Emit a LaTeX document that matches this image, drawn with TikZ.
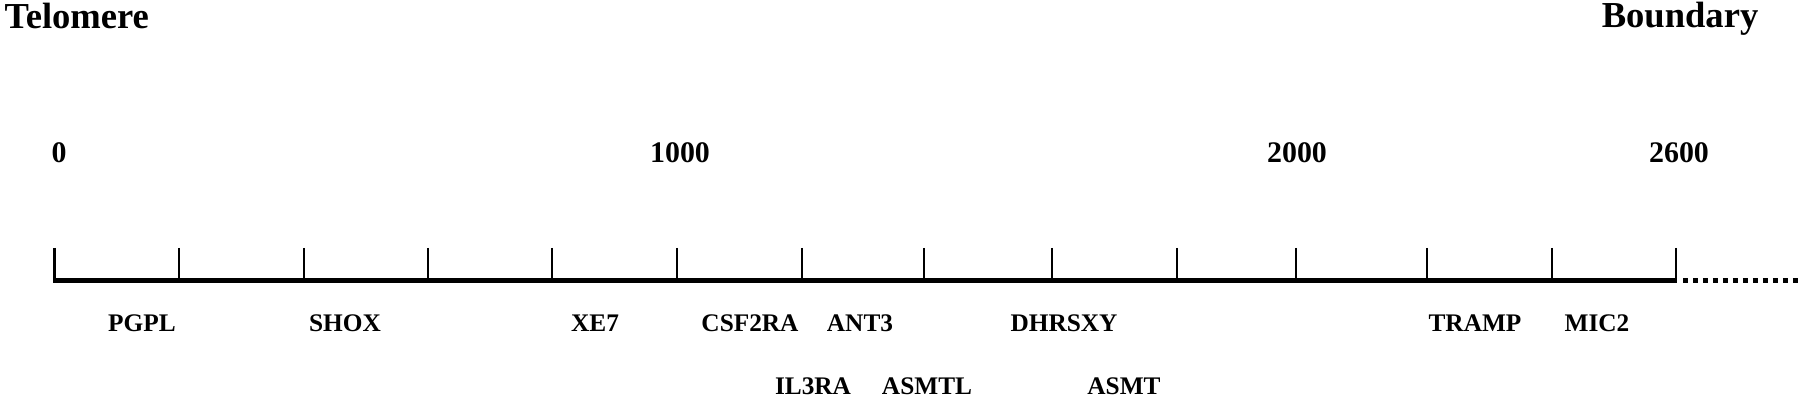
\documentclass[tikz,border=0pt]{standalone}
\usepackage{fontspec}
\setmainfont{Liberation Serif}
\usetikzlibrary{positioning}

\begin{document}
\begin{tikzpicture}[
        x=0.01cm, y=-0.01cm,
        endlabel/.style={inner sep=0pt, font=\fontsize{10.4}{12}\selectfont\bfseries},
        scalelabel/.style={inner sep=0pt, anchor=base, font=\fontsize{8.5}{10}\selectfont\bfseries},
        genelabel/.style={inner sep=0pt, anchor=base, font=\fontsize{7.2}{9}\selectfont\bfseries},
        axisline/.style={line width=1.42pt},
        tickline/.style={line width=0.77pt}
    ]
    \useasboundingbox (0,0) rectangle (1800,398);

    % --- Ends of the map ---
    \node[endlabel, anchor=base west] (telomere) at (4,29) {Telomere};
    \node[endlabel, anchor=base east] (boundary) at (1759,28) {Boundary};

    % --- Scale (kb) ---
    \node[scalelabel] (s0) at (59,163) {0};
    \node[scalelabel] (s1000) at (680,163) {1000};
    \node[scalelabel] (s2000) at (1297,163) {2000};
    \node[scalelabel] (s2600) at (1679,163) {2600};

    % --- Axis, one tick every 200 kb ---
    \coordinate (start) at (53,281);
    \coordinate (stop) at (1677,281);
    \coordinate (dots) at (1683,281);
    \coordinate (edge) at (1800,281);
    \draw[axisline] (start) -- (stop);
    \draw[axisline, dash pattern=on 1.42pt off 1.42pt] (dots) -- (edge);
    \foreach \x in {54.5,179,304,428,552,677,802,924,1052,1177,1296,1427,1552,1676}
        \draw[tickline] (\x,248) -- (\x,281);

    % --- Genes, first row ---
    \node[genelabel] (pgpl) at (142,332) {PGPL};
    \node[genelabel] (shox) at (345,332) {SHOX};
    \node[genelabel] (xe7) at (595,332) {XE7};
    \node[genelabel] (csf2ra) at (750,332) {CSF2RA};
    \node[genelabel] (ant3) at (860,332) {ANT3};
    \node[genelabel] (dhrsxy) at (1064,332) {DHRSXY};
    \node[genelabel] (tramp) at (1475,332) {TRAMP};
    \node[genelabel] (mic2) at (1597,332) {MIC2};

    % --- Genes, second row ---
    \node[genelabel] (il3ra) at (813,395) {IL3RA};
    \node[genelabel] (asmtl) at (927,395) {ASMTL};
    \node[genelabel] (asmt) at (1124,395) {ASMT};
\end{tikzpicture}
\end{document}
